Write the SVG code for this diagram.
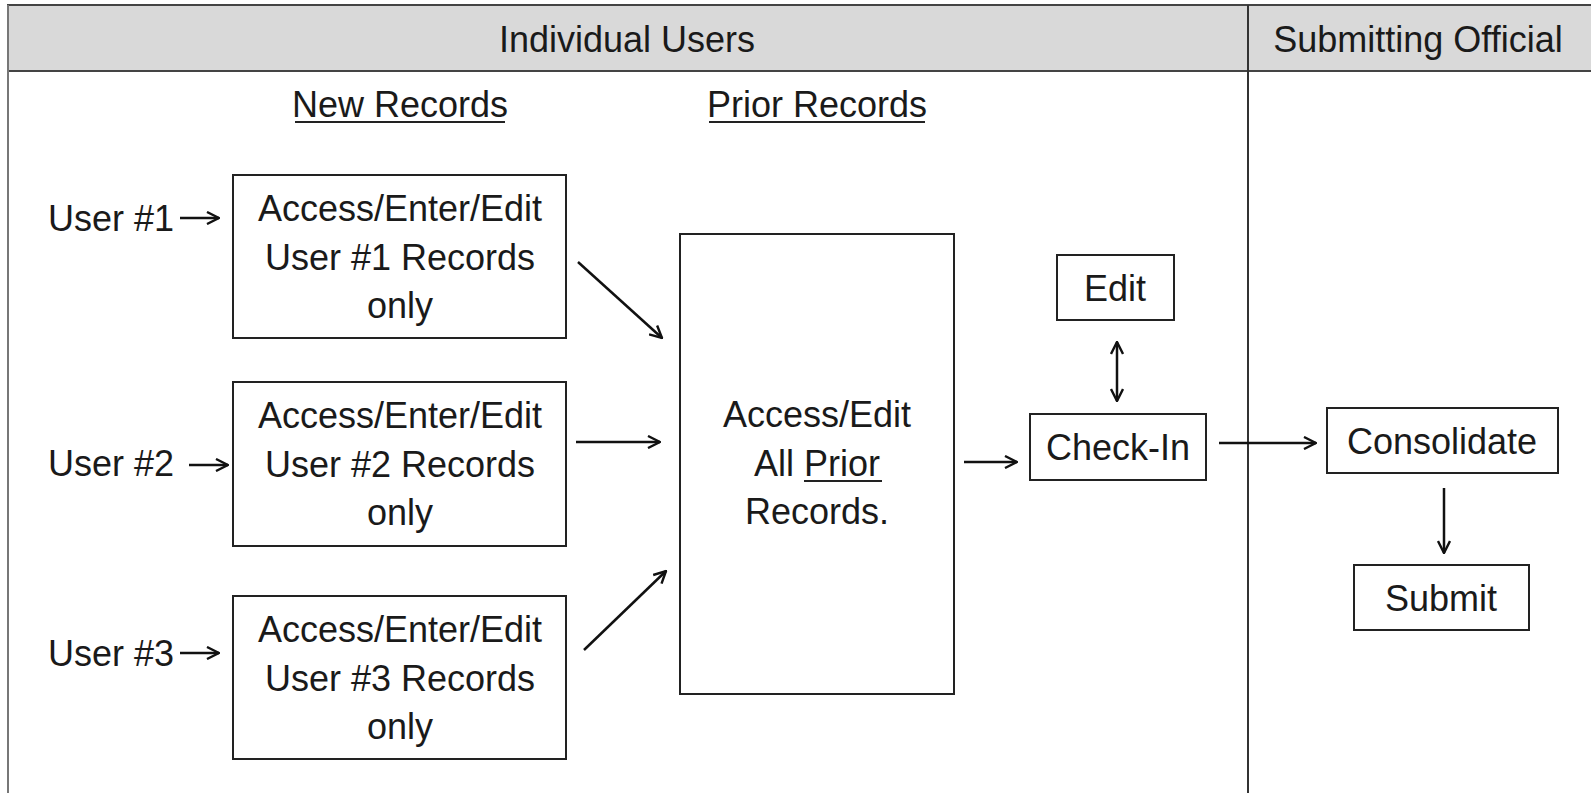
<svg xmlns="http://www.w3.org/2000/svg" width="1591" height="793" viewBox="0 0 1591 793">
<style>
.t{font-family:"Liberation Sans",Arial,sans-serif;font-size:36px;fill:#1a1a1a;text-anchor:middle}
.tl{font-family:"Liberation Sans",Arial,sans-serif;font-size:36px;fill:#1a1a1a}
.box{fill:#fff;stroke:#222;stroke-width:2}
.c{stroke:#111;stroke-width:2.5;fill:none}
.u{stroke:#222;stroke-width:2}
</style>
<defs>
<marker id="ah" viewBox="0 0 14 14" refX="13" refY="7" markerWidth="14" markerHeight="14" markerUnits="userSpaceOnUse" orient="auto-start-reverse">
<path d="M1,1 L13,7 L1,13" fill="none" stroke="#111" stroke-width="2.4"/>
</marker>
</defs>
<rect x="0" y="0" width="1591" height="793" fill="#fff"/>
<g id="lanes">
<rect x="8" y="5" width="1600" height="66" fill="#d9d9d9" stroke="#444" stroke-width="2"/>
<line x1="8" y1="5" x2="8" y2="800" stroke="#777" stroke-width="2"/>
<line x1="1248" y1="5" x2="1248" y2="800" stroke="#333" stroke-width="2"/>
<text class="t" x="627" y="52">Individual Users</text>
<text class="t" x="1418" y="52">Submitting Official</text>
</g>
<g id="headings">
<text class="t" x="400" y="117">New Records</text>
<line class="u" x1="295" y1="122" x2="505" y2="122"/>
<text class="t" x="817" y="117">Prior Records</text>
<line class="u" x1="709" y1="122" x2="925" y2="122"/>
</g>
<g id="user1">
<text class="tl" x="48" y="231">User #1</text>
</g>
<g id="user2">
<text class="tl" x="48" y="476">User #2</text>
</g>
<g id="user3">
<text class="tl" x="48" y="666">User #3</text>
</g>
<g id="box1">
<rect class="box" x="233" y="175" width="333" height="163"/>
<text class="t" x="400" y="221">Access/Enter/Edit</text>
<text class="t" x="400" y="270">User #1 Records</text>
<text class="t" x="400" y="318">only</text>
</g>
<g id="box2">
<rect class="box" x="233" y="382" width="333" height="164"/>
<text class="t" x="400" y="428">Access/Enter/Edit</text>
<text class="t" x="400" y="477">User #2 Records</text>
<text class="t" x="400" y="525">only</text>
</g>
<g id="box3">
<rect class="box" x="233" y="596" width="333" height="163"/>
<text class="t" x="400" y="642">Access/Enter/Edit</text>
<text class="t" x="400" y="691">User #3 Records</text>
<text class="t" x="400" y="739">only</text>
</g>
<g id="prior">
<rect class="box" x="680" y="234" width="274" height="460"/>
<text class="t" x="817" y="427">Access/Edit</text>
<text class="t" x="817" y="476">All <tspan>Prior</tspan></text>
<line class="u" x1="804" y1="481" x2="882" y2="481"/>
<text class="t" x="817" y="524">Records.</text>
</g>
<g id="edit">
<rect class="box" x="1057" y="255" width="117" height="65"/>
<text class="t" x="1115" y="301">Edit</text>
</g>
<g id="checkin">
<rect class="box" x="1030" y="414" width="176" height="66"/>
<text class="t" x="1118" y="460">Check-In</text>
</g>
<g id="consolidate">
<rect class="box" x="1327" y="408" width="231" height="65"/>
<text class="t" x="1442" y="454">Consolidate</text>
</g>
<g id="submit">
<rect class="box" x="1354" y="565" width="175" height="65"/>
<text class="t" x="1441" y="611">Submit</text>
</g>
<g id="connectors">
<line class="c" x1="180" y1="218" x2="219" y2="218" marker-end="url(#ah)"/>
<line class="c" x1="189" y1="465" x2="228" y2="465" marker-end="url(#ah)"/>
<line class="c" x1="180" y1="653" x2="219" y2="653" marker-end="url(#ah)"/>
<line class="c" x1="578" y1="262" x2="662" y2="338" marker-end="url(#ah)"/>
<line class="c" x1="576" y1="442" x2="660" y2="442" marker-end="url(#ah)"/>
<line class="c" x1="584" y1="650" x2="666" y2="571" marker-end="url(#ah)"/>
<line class="c" x1="964" y1="462" x2="1017" y2="462" marker-end="url(#ah)"/>
<line class="c" x1="1117" y1="342" x2="1117" y2="401" marker-start="url(#ah)" marker-end="url(#ah)"/>
<line class="c" x1="1219" y1="443" x2="1316" y2="443" marker-end="url(#ah)"/>
<line class="c" x1="1444" y1="488" x2="1444" y2="553" marker-end="url(#ah)"/>
</g>
</svg>
